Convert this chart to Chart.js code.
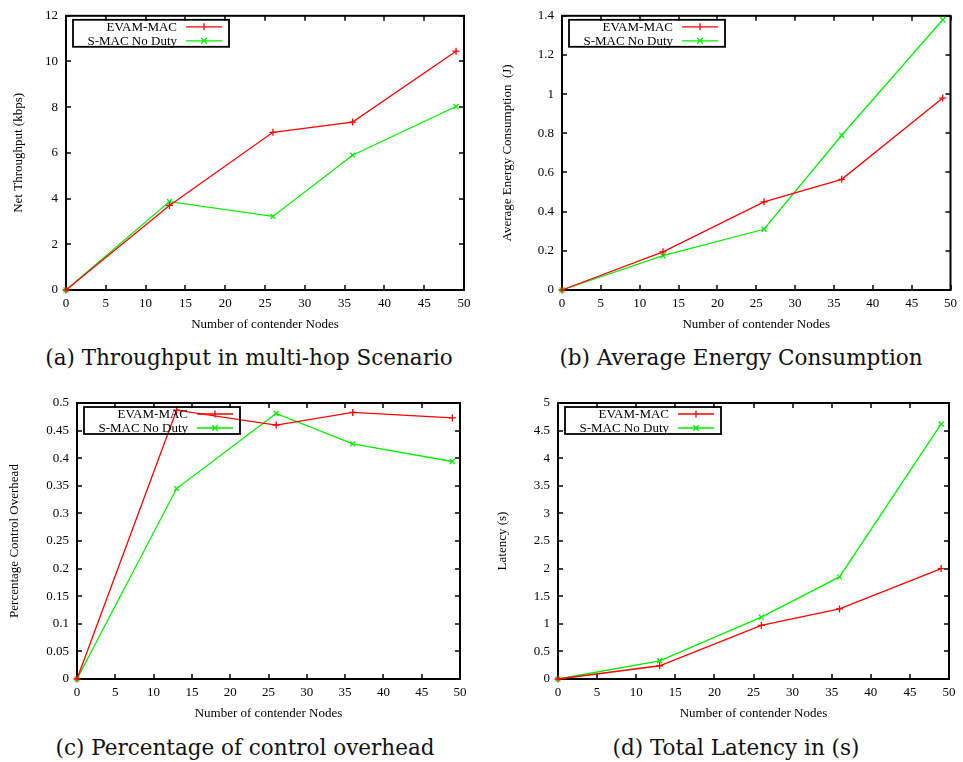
<!DOCTYPE html>
<html>
<head>
<meta charset="utf-8">
<script src="https://cdn.jsdelivr.net/npm/chart.js@4.4.1/dist/chart.umd.min.js"></script>
<style>
    body { margin: 0; background: #fff; width: 963px; height: 762px; position: relative; overflow: hidden; }
    .panel { position: absolute; }
    .cap { position: absolute; font-family: "DejaVu Serif", serif; font-size: 21.5px; white-space: nowrap; transform: translate(-50%, -50%); color: #111; }
</style>
</head>
<body>
<div class="panel" style="left:0;top:0;width:480px;height:340px"><canvas id="throughputChart"></canvas></div>
<div class="panel" style="left:480px;top:0;width:483px;height:340px"><canvas id="energyChart"></canvas></div>
<div class="panel" style="left:0;top:380px;width:480px;height:345px"><canvas id="overheadChart"></canvas></div>
<div class="panel" style="left:480px;top:380px;width:483px;height:345px"><canvas id="latencyChart"></canvas></div>

<div class="cap" style="left:249px;top:357px">(a) Throughput in multi-hop Scenario</div>
<div class="cap" style="left:741px;top:357px">(b) Average Energy Consumption</div>
<div class="cap" style="left:245px;top:747px">(c) Percentage of control overhead</div>
<div class="cap" style="left:736px;top:747px">(d) Total Latency in (s)</div>

<script>
// data
const nodes = [0, 13, 26, 36, 49];
const seriesNames = ['EVAM-MAC', 'S-MAC No Duty'];

const throughputEvam = [0, 3.7, 6.9, 7.35, 10.45];
const throughputSmac = [0, 3.87, 3.22, 5.9, 8.03];

const energyEvam = [0, 0.195, 0.45, 0.565, 0.98];
const energySmac = [0, 0.175, 0.31, 0.79, 1.38];

const overheadEvam = [0, 0.487, 0.46, 0.483, 0.473];
const overheadSmac = [0, 0.345, 0.481, 0.426, 0.394];

const latencyEvam = [0, 0.24, 0.97, 1.27, 2.0];
const latencySmac = [0, 0.33, 1.12, 1.85, 4.62];

const xTickStep = 5;
const xMax = 50;

const FONT = 'Liberation Serif';

function toPoints(ys) {
    return nodes.map((n, i) => ({x: n, y: ys[i]}));
}

// gnuplot style box + inward ticks on all four sides
const framePlugin = {
    id: 'frame',
    beforeDatasetsDraw(chart) {
        const ctx = chart.ctx;
        const a = chart.chartArea;
        const tl = 5;
        ctx.save();
        ctx.strokeStyle = '#000';
        ctx.lineWidth = 1.5;
        ctx.beginPath();
        chart.scales.x.ticks.forEach(t => {
            const px = Math.round(chart.scales.x.getPixelForValue(t.value));
            ctx.moveTo(px, a.bottom); ctx.lineTo(px, a.bottom - tl);
            ctx.moveTo(px, a.top); ctx.lineTo(px, a.top + tl);
        });
        chart.scales.y.ticks.forEach(t => {
            const py = Math.round(chart.scales.y.getPixelForValue(t.value));
            ctx.moveTo(a.left, py); ctx.lineTo(a.left + tl, py);
            ctx.moveTo(a.right, py); ctx.lineTo(a.right - tl, py);
        });
        ctx.stroke();
        ctx.lineWidth = 2;
        ctx.strokeRect(a.left, a.top, a.right - a.left, a.bottom - a.top);
        ctx.restore();
    },
    afterDatasetsDraw(chart) {
        // key box, top left inside the plot
        const ctx = chart.ctx;
        const a = chart.chartArea;
        const bx = a.left + 7, by = a.top + 4, bw = 156, bh = 27;
        ctx.save();
        ctx.strokeStyle = '#000';
        ctx.lineWidth = 1.8;
        ctx.strokeRect(bx, by, bw, bh);
        ctx.font = '13px "' + FONT + '"';
        ctx.textAlign = 'right';
        ctx.textBaseline = 'middle';
        chart.data.datasets.forEach((ds, i) => {
            const y = by + 7 + i * 14;
            ctx.fillStyle = '#000';
            ctx.fillText(ds.label, bx + 104, y + 1);
            ctx.strokeStyle = ds.borderColor;
            ctx.lineWidth = 1.3;
            ctx.beginPath();
            ctx.moveTo(bx + 113, y); ctx.lineTo(bx + 149, y);
            const mx = bx + 131, r = 3.5;
            if (ds.pointStyle === 'cross') {
                ctx.moveTo(mx - r, y); ctx.lineTo(mx + r, y);
                ctx.moveTo(mx, y - r); ctx.lineTo(mx, y + r);
            } else {
                const d = r * 0.8;
                ctx.moveTo(mx - d, y - d); ctx.lineTo(mx + d, y + d);
                ctx.moveTo(mx - d, y + d); ctx.lineTo(mx + d, y - d);
            }
            ctx.stroke();
        });
        ctx.restore();
    }
};

function makeChart(id, yTitle, yMax, yStep, evam, smac, g) {
    return new Chart(document.getElementById(id), {
        type: 'line',
        data: {
            datasets: [{
                label: seriesNames[0],
                data: toPoints(evam),
                borderColor: '#ff0000',
                backgroundColor: '#ff0000',
                borderWidth: 1.3,
                pointStyle: 'cross',
                pointRadius: 3.5,
                pointBorderWidth: 1.3,
                clip: false
            }, {
                label: seriesNames[1],
                data: toPoints(smac),
                borderColor: '#00ee00',
                backgroundColor: '#00ee00',
                borderWidth: 1.3,
                pointStyle: 'crossRot',
                pointRadius: 3.5,
                pointBorderWidth: 1.3,
                clip: false
            }]
        },
        options: {
            responsive: true,
            maintainAspectRatio: false,
            animation: false,
            layout: {padding: {top: g.top, right: g.right, left: 0, bottom: 0}},
            plugins: {legend: {display: false}, tooltip: {enabled: false}},
            elements: {line: {tension: 0}},
            scales: {
                x: {
                    type: 'linear',
                    min: 0,
                    max: xMax,
                    grid: {display: false, drawTicks: false},
                    border: {display: false},
                    ticks: {
                        stepSize: xTickStep,
                        padding: 6,
                        color: '#000',
                        font: {family: FONT, size: 13},
                        maxRotation: 0
                    },
                    title: {
                        display: true,
                        text: 'Number of contender Nodes',
                        color: '#000',
                        font: {family: FONT, size: 13},
                        padding: {top: 0, bottom: g.xTitlePad}
                    },
                    afterFit: s => { s.height = g.xAxisH; }
                },
                y: {
                    min: 0,
                    max: yMax,
                    grid: {display: false, drawTicks: false},
                    border: {display: false},
                    ticks: {
                        stepSize: yStep,
                        padding: 8,
                        color: '#000',
                        font: {family: FONT, size: 13},
                        callback: v => String(+v.toFixed(2))
                    },
                    title: {
                        display: true,
                        text: yTitle,
                        color: '#000',
                        font: {family: FONT, size: 13},
                        padding: {top: g.yTitlePad, bottom: 0}
                    },
                    afterFit: s => { s.width = g.yAxisW; }
                }
            }
        },
        plugins: [framePlugin]
    });
}

makeChart('throughputChart', 'Net Throughput (kbps)', 12, 2, throughputEvam, throughputSmac,
    {top: 13, right: 16, yAxisW: 66, xAxisH: 50, xTitlePad: 8, yTitlePad: 11});
makeChart('energyChart', 'Average Energy Consumption  (J)', 1.4, 0.2, energyEvam, energySmac,
    {top: 13, right: 10, yAxisW: 82, xAxisH: 50, xTitlePad: 8, yTitlePad: 20});
makeChart('overheadChart', 'Percentage Control Overhead', 0.5, 0.05, overheadEvam, overheadSmac,
    {top: 23, right: 20, yAxisW: 77, xAxisH: 46, xTitlePad: 4, yTitlePad: 7});
makeChart('latencyChart', 'Latency (s)', 5, 0.5, latencyEvam, latencySmac,
    {top: 23, right: 14, yAxisW: 78, xAxisH: 46, xTitlePad: 4, yTitlePad: 15});
</script>
</body>
</html>
